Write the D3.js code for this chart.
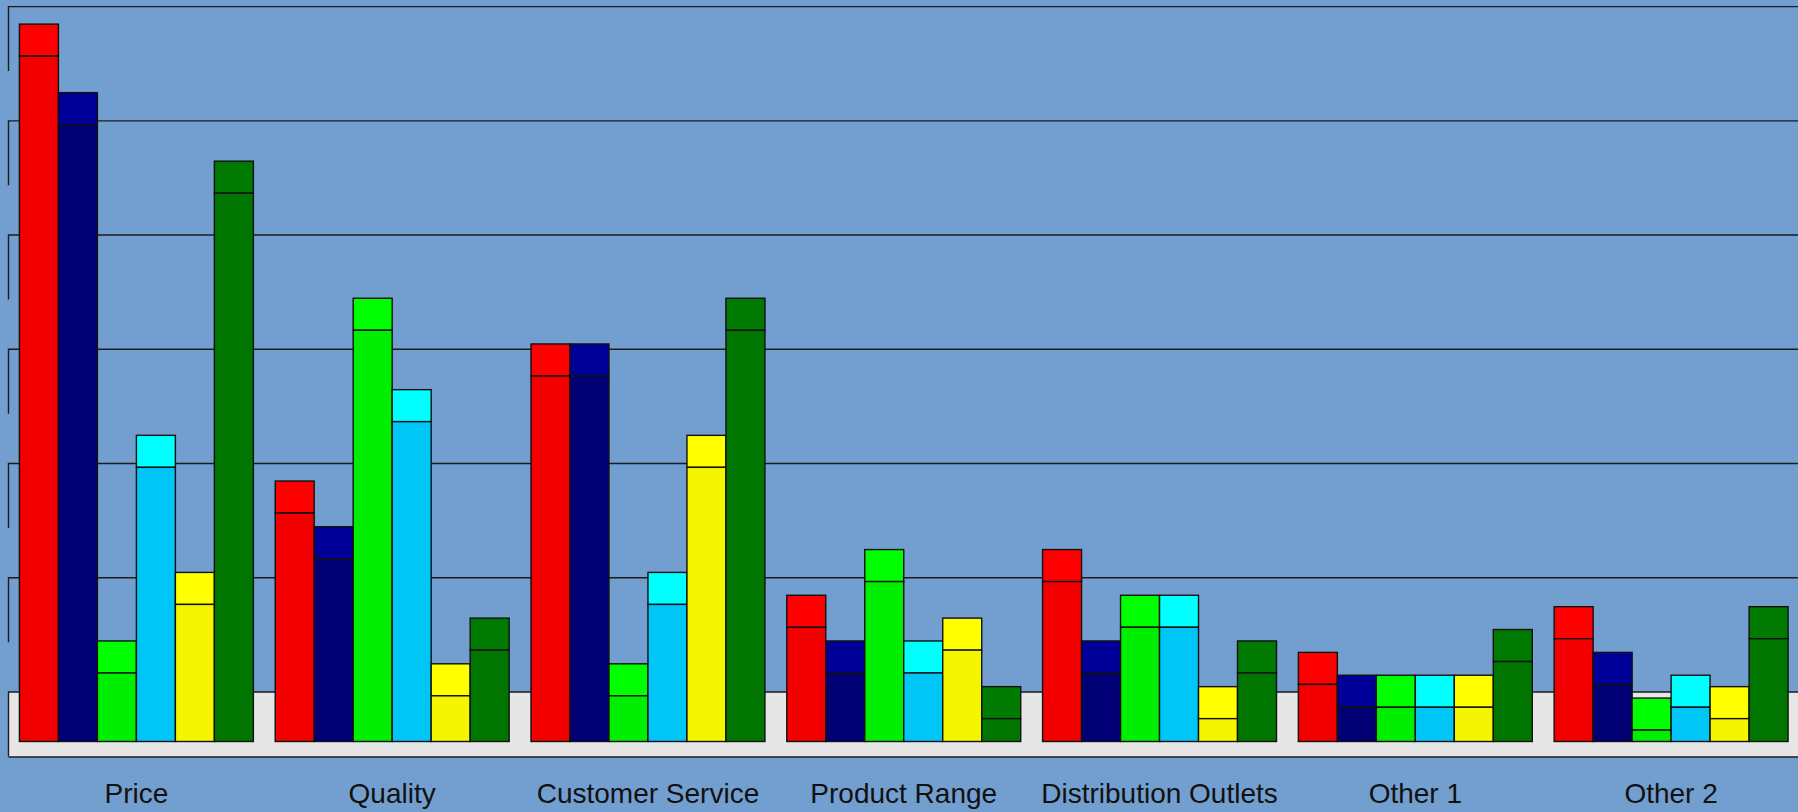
<!DOCTYPE html>
<html>
<head>
<meta charset="utf-8">
<script src="https://cdn.jsdelivr.net/npm/d3@7"></script>
<style>
  html, body { margin: 0; padding: 0; background: #729fcf; overflow: hidden; }
  svg { display: block; }
</style>
</head>
<body>
<svg id="chart" width="1798" height="812"></svg>
<script>
// Categories along the floor
const categories = ["Price", "Quality", "Customer Service", "Product Range",
                    "Distribution Outlets", "Other 1", "Other 2"];

// Share of responses (%) per series, one entry per category
const series1 = [60, 20, 32, 10, 14, 5, 9];
const series2 = [54, 16, 32, 6, 6, 3, 5];
const series3 = [6, 36, 4, 14, 10, 3, 1];
const series4 = [24, 28, 12, 6, 10, 3, 3];
const series5 = [12, 4, 24, 8, 2, 3, 2];
const series6 = [48, 8, 36, 2, 6, 7, 9];

// Wall gridline values
const gridTicks = [0, 10, 20, 30, 40, 50, 60];

const seriesNames = ["S1", "S2", "S3", "S4", "S5", "S6"];
const seriesValues = [series1, series2, series3, series4, series5, series6];

// front face / top face fills
const frontColors = ["#f20000", "#000074", "#00ee00", "#00c6f8", "#f5f500", "#007600"];
const topColors   = ["#ff0000", "#000099", "#00ff00", "#00ffff", "#ffff00", "#007a00"];

const W = 1798, H = 812;
const wallLeft = 8.5, wallRight = 1799;
const depthFloor = 65;      // floor depth on screen
const barFront = 49.5;      // offset from back wall to bar front face
const barDepth = 32;        // visible top face height

const svg = d3.select("#chart");

const y = d3.scaleLinear().domain([0, 60]).range([692, 6.6]);

const x0 = d3.scaleBand().domain(categories)
  .range([wallLeft, wallRight]).paddingInner(0.0854).paddingOuter(0.0427);
const x1 = d3.scaleBand().domain(seriesNames).range([0, x0.bandwidth()]).padding(0);

// background
svg.append("rect").attr("width", W).attr("height", H).attr("fill", "#729fcf");

// floor
svg.append("rect")
  .attr("x", wallLeft).attr("y", y(0))
  .attr("width", W - wallLeft + 2).attr("height", depthFloor)
  .attr("fill", "#e6e6e6");

// wall gridlines with their left side-wall edge
const grid = svg.append("g").attr("stroke", "#1c1c1c").attr("stroke-width", 1.4).attr("fill", "none");
grid.selectAll("path.g").data(gridTicks).join("path")
  .attr("class", "g")
  .attr("d", d => `M${wallLeft},${y(d) + depthFloor - 0.5}V${y(d)}H${W + 2}`);

// floor front edge
svg.append("line")
  .attr("x1", wallLeft).attr("x2", W + 2)
  .attr("y1", y(0) + depthFloor).attr("y2", y(0) + depthFloor)
  .attr("stroke", "#1c1c1c").attr("stroke-width", 1.4);

// bars
const rows = [];
categories.forEach((c, ci) => {
  seriesNames.forEach((s, si) => rows.push({ cat: c, ser: s, si, v: seriesValues[si][ci] }));
});

const bars = svg.append("g").selectAll("g.bar").data(rows).join("g").attr("class", "bar")
  .attr("transform", d => `translate(${x0(d.cat) + x1(d.ser)},0)`);

bars.append("rect")
  .attr("x", 0).attr("width", x1.bandwidth())
  .attr("y", d => y(d.v) + barFront - barDepth)
  .attr("height", barDepth)
  .attr("fill", d => topColors[d.si])
  .attr("stroke", "#111").attr("stroke-width", 1.4);

bars.append("rect")
  .attr("x", 0).attr("width", x1.bandwidth())
  .attr("y", d => y(d.v) + barFront)
  .attr("height", d => y(0) - y(d.v))
  .attr("fill", d => frontColors[d.si])
  .attr("stroke", "#111").attr("stroke-width", 1.4);

// category labels
svg.append("g").selectAll("text").data(categories).join("text")
  .attr("x", d => x0(d) + x0.bandwidth() / 2)
  .attr("y", 802.5)
  .attr("text-anchor", "middle")
  .attr("font-family", "'Liberation Sans', Arial, sans-serif")
  .attr("font-size", 28)
  .attr("fill", "#111")
  .text(d => d);
</script>
</body>
</html>
